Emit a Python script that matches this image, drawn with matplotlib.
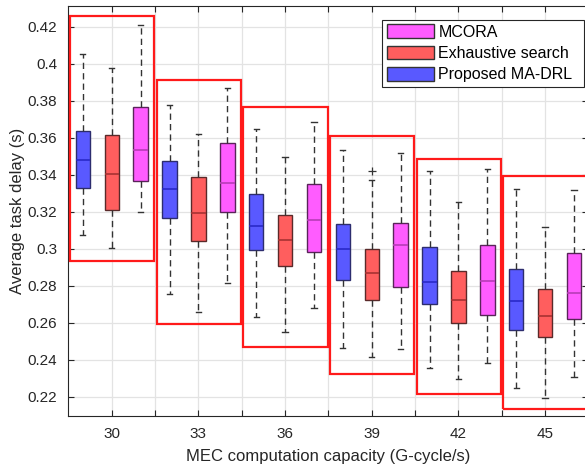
import numpy as np
import matplotlib
matplotlib.use("Agg")
import matplotlib.pyplot as plt
from matplotlib.patches import Patch, Rectangle

plt.rcParams['font.family'] = ['Liberation Sans', 'DejaVu Sans']

# MEC computation capacity groups
capacity = [30, 33, 36, 39, 42, 45]

# Proposed MA-DRL (blue)
drl_whishi = [0.4051, 0.3777, 0.3647, 0.3533, 0.3418, 0.3321]
drl_q3 = [0.3638, 0.3476, 0.3294, 0.3134, 0.3009, 0.2889]
drl_med = [0.3481, 0.3321, 0.3121, 0.2997, 0.2822, 0.2717]
drl_q1 = [0.3330, 0.3168, 0.2993, 0.2831, 0.2703, 0.2559]
drl_whislo = [0.3074, 0.2755, 0.2631, 0.2465, 0.2353, 0.2249]

# Exhaustive search (red)
ex_whishi = [0.3978, 0.3622, 0.3497, 0.3371, 0.3252, 0.3119]
ex_q3 = [0.3615, 0.3386, 0.3182, 0.2997, 0.2881, 0.2784]
ex_med = [0.3405, 0.3191, 0.3045, 0.2869, 0.2721, 0.2638]
ex_q1 = [0.3209, 0.3043, 0.2906, 0.2722, 0.2600, 0.2521]
ex_whislo = [0.3005, 0.2658, 0.2551, 0.2413, 0.2296, 0.2193]
ex_fliers = [[], [], [], [0.342], [], []]

# MCORA (magenta)
mc_whishi = [0.4209, 0.3867, 0.3683, 0.3516, 0.3429, 0.3317]
mc_q3 = [0.3764, 0.3570, 0.3348, 0.3141, 0.3022, 0.2975]
mc_med = [0.3532, 0.3357, 0.3153, 0.3020, 0.2824, 0.2759]
mc_q1 = [0.3364, 0.3197, 0.2980, 0.2795, 0.2642, 0.2618]
mc_whislo = [0.3200, 0.2816, 0.2678, 0.2458, 0.2384, 0.2308]

# red highlight frames around each group
frame_top = [0.4259, 0.3912, 0.3764, 0.3611, 0.3486, 0.3395]
frame_bottom = [0.2935, 0.2593, 0.2467, 0.2322, 0.2215, 0.2132]


def make_stats(lo, q1, med, q3, hi, fliers=None):
    stats = []
    for i in range(len(lo)):
        stats.append({'whislo': lo[i], 'q1': q1[i], 'med': med[i],
                      'q3': q3[i], 'whishi': hi[i],
                      'fliers': fliers[i] if fliers else []})
    return stats


def draw(ax, stats, pos, face, edge, medc):
    ax.bxp(stats, positions=pos, widths=0.5, capwidths=0.18,
           patch_artist=True, showfliers=True,
           boxprops=dict(facecolor=face, edgecolor=edge, linewidth=1.0),
           medianprops=dict(color=medc, linewidth=1.2),
           whiskerprops=dict(color='#333333', linewidth=1.0,
                             linestyle=(0, (4.5, 3))),
           capprops=dict(color='#333333', linewidth=1.0),
           flierprops=dict(marker='+', markeredgecolor='#333333',
                           markersize=6, markeredgewidth=0.9))


fig = plt.figure(figsize=(5.85, 4.73), dpi=100)
ax = fig.add_axes([68.4 / 585, 57 / 473, 520 / 585, 410 / 473])

centers = np.arange(len(capacity)) * 3 + 2

blue = (0.35, 0.35, 1.0)
red = (1.0, 0.37, 0.37)
magenta = (1.0, 0.36, 1.0)

draw(ax, make_stats(drl_whislo, drl_q1, drl_med, drl_q3, drl_whishi),
     centers - 1, blue, '#2d2d6e', '#2a2ac8')
draw(ax, make_stats(ex_whislo, ex_q1, ex_med, ex_q3, ex_whishi, ex_fliers),
     centers, red, '#5a2a2a', '#a83232')
draw(ax, make_stats(mc_whislo, mc_q1, mc_med, mc_q3, mc_whishi),
     centers + 1, magenta, '#5a245a', '#b83cb8')

for c, top, bot in zip(centers, frame_top, frame_bottom):
    ax.add_patch(Rectangle((c - 1.45, bot), 2.92, top - bot, fill=False,
                           edgecolor='#ff1a1a', linewidth=1.6, zorder=5))

ax.set_xlim(0.5, 18.5)
ax.set_ylim(0.2096, 0.4312)

xt = np.arange(2, 18.6, 1.5)
xl = []
for i in range(len(xt)):
    xl.append(str(capacity[i // 2]) if i % 2 == 0 else '')
ax.set_xticks(xt)
ax.set_xticklabels(xl)
yt = np.arange(0.22, 0.4201, 0.02)
ax.set_yticks(yt)
ax.set_yticklabels(['%g' % round(v, 2) for v in yt])

ax.grid(True, color='#e3e3e3', linewidth=0.9)
ax.set_axisbelow(True)
ax.tick_params(direction='in', top=True, right=True, length=4,
               labelsize=11, colors='#262626', pad=8)
for s in ax.spines.values():
    s.set_color('#262626')
    s.set_linewidth(0.8)

ax.set_xlabel('MEC computation capacity (G-cycle/s)', fontsize=12,
              color='#262626', labelpad=6)
ax.set_ylabel('Average task delay (s)', fontsize=12, color='#262626',
              labelpad=2)

handles = [Patch(facecolor=magenta, edgecolor='#333333', label='MCORA'),
           Patch(facecolor=red, edgecolor='#333333', label='Exhaustive search'),
           Patch(facecolor=blue, edgecolor='#333333', label='Proposed MA-DRL')]
leg = ax.legend(handles=handles, loc='upper left',
                bbox_to_anchor=(384 / 585, 1 - 21 / 473),
                bbox_transform=fig.transFigure, borderaxespad=0,
                fontsize=11.5, frameon=False, handlelength=2.9,
                handleheight=0.95, handletextpad=0.3, labelspacing=0.38,
                borderpad=0.2)
leg.set_zorder(10)

# legend frame, drawn by hand so it gets the wider right margin
frame = Rectangle((381.7 / 585, 1 - 86.7 / 473), 202.3 / 585, 66.7 / 473,
                  transform=fig.transFigure, facecolor='white',
                  edgecolor='#262626', linewidth=0.8, zorder=9)
ax.add_artist(frame)
frame.set_clip_on(False)

fig.savefig('out.png', dpi=100)
